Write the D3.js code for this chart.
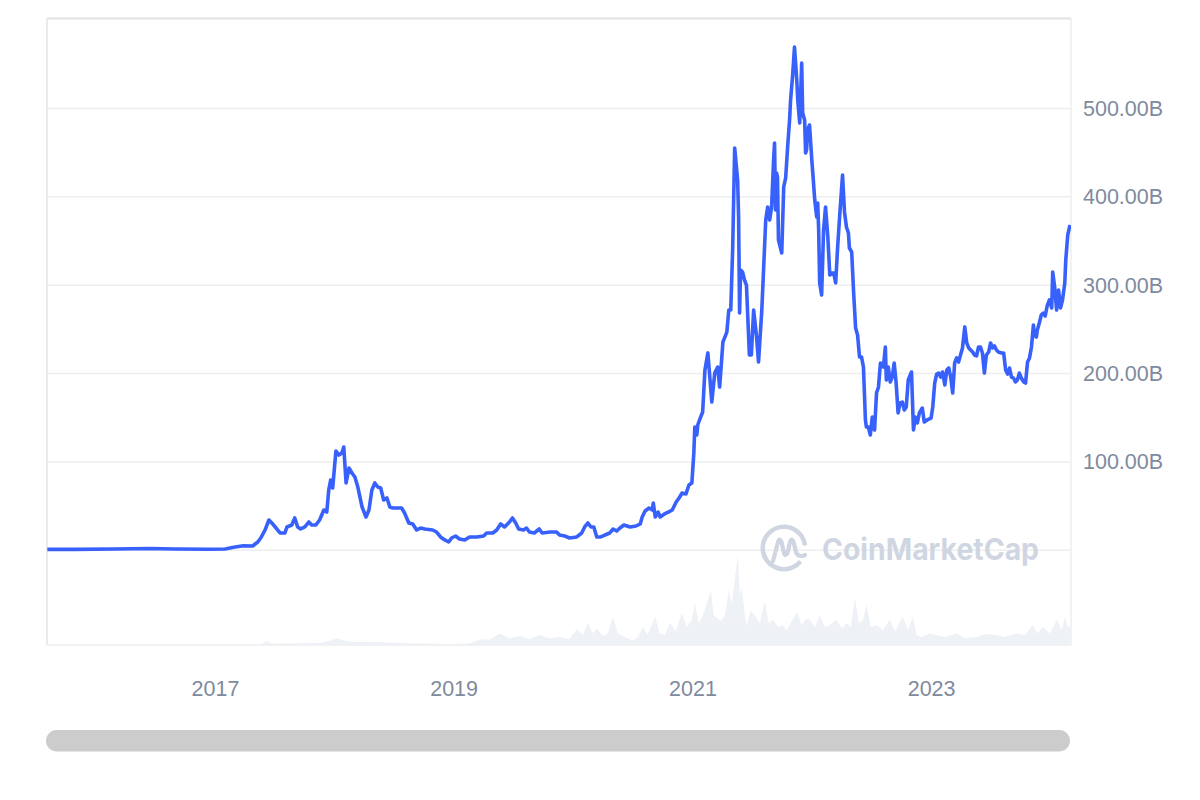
<!DOCTYPE html>
<html>
<head>
<meta charset="utf-8">
<script src="https://cdn.jsdelivr.net/npm/d3@7"></script>
<style>
  html, body { margin: 0; padding: 0; background: #fff; }
  svg { display: block; font-family: "Liberation Sans", Arial, sans-serif; }
</style>
</head>
<body>
<div id="viz"></div>
<script>
// ETH market cap (billions USD)
const capDates = [
  "2015-08-07","2015-11-01","2016-03-01","2016-06-15","2016-09-01","2016-12-15","2017-02-01","2017-02-27",
  "2017-03-29","2017-04-26","2017-05-12","2017-05-21","2017-06-03","2017-06-15","2017-06-24","2017-07-19",
  "2017-08-03","2017-08-09","2017-08-24","2017-09-02","2017-09-11","2017-09-20","2017-10-03","2017-10-15",
  "2017-10-24","2017-11-05","2017-11-17","2017-11-30","2017-12-09","2017-12-15","2017-12-21","2017-12-27",
  "2018-01-06","2018-01-15","2018-01-24","2018-01-30","2018-02-06","2018-02-15","2018-02-24","2018-03-05",
  "2018-03-14","2018-03-27","2018-04-08","2018-04-17","2018-04-26","2018-05-05","2018-05-14","2018-05-23",
  "2018-06-01","2018-06-11","2018-06-20","2018-06-29","2018-07-11","2018-07-26","2018-08-04","2018-08-17",
  "2018-08-29","2018-09-10","2018-09-22","2018-10-05","2018-10-29","2018-11-10","2018-11-22","2018-12-05",
  "2018-12-17","2018-12-26","2019-01-07","2019-01-19","2019-02-04","2019-02-19","2019-03-13","2019-04-03",
  "2019-04-12","2019-05-01","2019-05-13","2019-05-25","2019-06-06","2019-06-21","2019-06-30","2019-07-10",
  "2019-07-19","2019-08-03","2019-08-12","2019-08-21","2019-09-05","2019-09-20","2019-09-29","2019-10-24",
  "2019-11-12","2019-11-21","2019-12-07","2019-12-22","2020-01-13","2020-01-28","2020-02-06","2020-02-16",
  "2020-02-25","2020-03-05","2020-03-14","2020-03-26","2020-04-08","2020-04-23","2020-05-03","2020-05-14",
  "2020-05-24","2020-06-05","2020-06-24","2020-07-12","2020-07-25","2020-07-31","2020-08-09","2020-08-21",
  "2020-08-31","2020-09-03","2020-09-09","2020-09-18","2020-09-24","2020-10-07","2020-10-19","2020-10-31",
  "2020-11-12","2020-11-21","2020-11-30","2020-12-12","2020-12-21","2020-12-30","2021-01-05","2021-01-08",
  "2021-01-14","2021-01-17","2021-01-26","2021-02-01","2021-02-08","2021-02-17","2021-03-01","2021-03-10",
  "2021-03-19","2021-03-25","2021-04-04","2021-04-16","2021-04-22","2021-04-28","2021-05-04","2021-05-10",
  "2021-05-19","2021-05-22","2021-05-25","2021-05-28","2021-06-03","2021-06-09","2021-06-15","2021-06-24",
  "2021-06-30","2021-07-07","2021-07-16","2021-07-22","2021-08-01","2021-08-13","2021-08-19","2021-08-25",
  "2021-08-31","2021-09-06","2021-09-09","2021-09-12","2021-09-15","2021-09-18","2021-09-21","2021-10-01",
  "2021-10-07","2021-10-13","2021-10-19","2021-10-25","2021-10-28","2021-11-03","2021-11-09","2021-11-16",
  "2021-11-19","2021-11-25","2021-12-01","2021-12-04","2021-12-10","2021-12-13","2021-12-16","2021-12-19",
  "2021-12-25","2022-01-01","2022-01-04","2022-01-10","2022-01-16","2022-01-19","2022-01-22","2022-01-25",
  "2022-01-31","2022-02-06","2022-02-12","2022-02-19","2022-02-25","2022-03-03","2022-03-09","2022-03-15",
  "2022-03-21","2022-03-27","2022-04-05","2022-04-11","2022-04-17","2022-04-23","2022-04-26","2022-05-03",
  "2022-05-09","2022-05-15","2022-05-21","2022-05-27","2022-06-02","2022-06-08","2022-06-14","2022-06-17",
  "2022-06-23","2022-06-29","2022-07-05","2022-07-12","2022-07-18","2022-07-24","2022-07-30","2022-08-08",
  "2022-08-14","2022-08-17","2022-08-23","2022-08-29","2022-09-04","2022-09-10","2022-09-16","2022-09-22",
  "2022-09-28","2022-10-05","2022-10-11","2022-10-17","2022-10-23","2022-11-02","2022-11-08","2022-11-14",
  "2022-11-20","2022-11-26","2022-12-05","2022-12-11","2022-12-20","2023-01-01","2023-01-06","2023-01-12",
  "2023-01-18","2023-01-24","2023-01-30","2023-02-05","2023-02-12","2023-02-18","2023-02-24","2023-03-02",
  "2023-03-08","2023-03-14","2023-03-20","2023-03-26","2023-04-01","2023-04-07","2023-04-14","2023-04-20",
  "2023-04-26","2023-05-02","2023-05-08","2023-05-14","2023-05-20","2023-05-26","2023-06-01","2023-06-07",
  "2023-06-13","2023-06-19","2023-06-26","2023-07-02","2023-07-08","2023-07-14","2023-07-20","2023-07-26",
  "2023-08-04","2023-08-11","2023-08-17","2023-08-23","2023-08-29","2023-09-04","2023-09-10","2023-09-16",
  "2023-09-22","2023-09-28","2023-10-04","2023-10-11","2023-10-17","2023-10-23","2023-10-29","2023-11-04",
  "2023-11-10","2023-11-13","2023-11-19","2023-11-22","2023-11-28","2023-12-04","2023-12-10","2023-12-16",
  "2023-12-22","2023-12-29","2024-01-05","2024-01-08","2024-01-14","2024-01-20","2024-01-26","2024-02-01",
  "2024-02-07","2024-02-14","2024-02-17","2024-02-23","2024-03-01"
];
const capValues = [
  1.0,1.0,1.5,2.0,1.5,1.2,1.5,3.4,
  5.2,4.9,9.4,13.9,22.8,34.3,30.9,19.6,
  19.6,26.4,28.6,36.6,26.4,24.2,26.4,32.0,
  28.6,28.6,34.3,45.6,43.3,68.2,79.6,70.5,
  112.4,107.8,110.1,116.9,76.2,93.1,87.5,82.9,
  71.6,49.0,37.7,45.6,68.2,76.2,71.6,70.5,
  56.9,59.2,49.0,47.9,47.9,47.9,42.2,30.9,
  29.8,23.0,25.2,24.1,23.0,20.7,15.1,11.7,
  9.4,13.9,16.2,12.8,11.7,15.1,15.1,16.2,
  19.6,19.6,23.0,29.8,26.4,32.0,36.6,30.9,
  24.1,23.0,25.2,20.7,19.6,24.1,19.6,20.7,
  20.7,17.3,16.2,13.9,15.1,19.6,26.4,30.9,
  26.4,26.4,15.1,15.1,17.3,19.6,24.1,21.8,
  25.2,28.6,26.4,27.5,29.8,37.7,44.5,47.9,
  45.6,53.5,37.7,43.3,37.7,41.1,43.3,45.6,
  54.7,59.2,64.8,63.7,73.9,76.2,110.1,139.5,
  130.5,141.8,150.9,156.5,204.0,223.4,167.8,200.6,
  207.4,184.8,235.7,247.0,271.9,271.9,343.2,455.3,
  419.0,377.2,268.5,317.2,314.9,305.9,300.2,221.0,
  221.0,271.9,241.4,213.1,271.9,373.8,388.5,373.8,
  388.5,441.7,461.0,385.1,427.0,422.4,351.2,336.5,
  411.2,421.4,456.5,487.1,509.6,535.7,569.6,532.3,
  509.6,483.6,551.5,494.9,487.1,449.6,453.1,475.7,
  481.3,441.7,427.0,396.4,377.2,393.0,362.5,302.5,
  288.9,362.5,388.5,354.6,311.6,313.9,313.9,302.5,
  343.2,377.2,424.7,382.9,365.9,359.1,342.1,337.6,
  291.2,251.6,243.7,218.8,218.8,207.4,147.5,139.5,
  139.5,130.5,150.9,136.1,178.0,184.8,212.0,207.4,
  230.1,192.7,207.4,190.5,196.1,212.0,189.3,155.4,
  166.7,167.8,158.8,162.2,192.7,201.8,136.1,150.9,
  144.1,155.4,161.0,145.2,147.5,149.7,162.2,189.3,
  199.5,200.6,196.1,201.8,187.1,204.0,206.3,196.1,
  178.0,212.0,217.7,213.1,221.0,229.0,252.8,234.7,
  229.0,226.7,224.4,221.0,219.9,230.1,230.1,223.3,
  200.6,221.0,224.4,234.6,229.0,231.2,226.7,224.4,
  223.3,223.3,204.0,199.5,206.3,196.1,195.0,190.5,
  192.7,200.6,195.0,190.5,189.3,213.1,217.7,230.1,
  255.0,243.7,241.4,249.3,257.2,266.3,268.5,265.1,
  276.5,283.3,274.3,315.0,298.0,271.9,294.6,274.3,
  283.3,302.5,328.6,356.8,368.2
];

// trading volume (billions USD), bottom panel
const volDates = [
  "2015-08-07","2017-02-15","2017-05-24","2017-06-08","2017-06-23","2017-11-17","2017-12-18","2018-01-09",
  "2018-01-24","2018-02-17","2018-04-19","2018-07-20","2018-12-20","2019-02-18","2019-03-27","2019-04-20",
  "2019-05-21","2019-06-21","2019-07-21","2019-08-21","2019-09-20","2019-10-21","2019-11-21","2019-12-21",
  "2020-01-13","2020-02-01","2020-02-15","2020-03-02","2020-03-14","2020-04-02","2020-04-17","2020-05-02",
  "2020-05-18","2020-06-08","2020-07-03","2020-07-18","2020-08-02","2020-08-17","2020-09-08","2020-09-23",
  "2020-10-08","2020-10-24","2020-11-11","2020-11-29","2020-12-15","2020-12-30","2021-01-08","2021-01-20",
  "2021-02-02","2021-02-14","2021-02-26","2021-03-07","2021-03-16","2021-03-29","2021-04-10","2021-04-22",
  "2021-05-01","2021-05-10","2021-05-20","2021-05-26","2021-06-01","2021-06-10","2021-06-16","2021-06-28",
  "2021-07-11","2021-07-26","2021-08-10","2021-08-22","2021-09-04","2021-09-19","2021-10-04","2021-10-16",
  "2021-11-01","2021-11-16","2021-12-01","2021-12-14","2021-12-26","2022-01-10","2022-01-25","2022-02-10",
  "2022-02-25","2022-03-18","2022-04-03","2022-04-18","2022-04-30","2022-05-13","2022-05-25","2022-06-06",
  "2022-06-18","2022-06-30","2022-07-19","2022-08-06","2022-08-28","2022-09-12","2022-10-06","2022-10-22",
  "2022-11-06","2022-11-18","2022-12-03","2022-12-28","2023-01-18","2023-02-12","2023-03-21","2023-04-14",
  "2023-05-21","2023-06-14","2023-07-21","2023-08-14","2023-09-20","2023-10-15","2023-11-08","2023-11-23",
  "2023-12-09","2023-12-30","2024-01-21","2024-02-05","2024-02-14","2024-02-23","2024-03-03"
];
const volValues = [
  0,0.3,1,4,1.5,2,4,6.5,
  5,3,3,2,1,1.5,5.5,5,
  11,6.5,8.5,5.5,9.5,6.5,7.5,5.5,
  15,9.5,21,11,16,8.5,11,27,
  11,7.5,4,7.5,17,9.5,27,11,
  9.5,21,13,30,17,24,40,21,
  28,40,52,28,26,23,28,52,
  38,62,85,47,55,28,19,33,
  28,21,41,21,24,17,19,14,
  23,31,19,25,24,17,28,17,
  19,24,16,21,17,45,21,24,
  38,17,19,14,24,13,27,14,
  27,9.5,7.5,11,9.5,7.5,11,6.5,
  7.5,10.5,9.5,7.5,11,9.5,19,11,
  17,11,24,14,27,17,19
];

const yearTicks = ["2017-01-01","2019-01-01","2021-01-01","2023-01-01"];
const priceTicks = [100, 200, 300, 400, 500];
const gridTicks = [0, 100, 200, 300, 400, 500];

const parse = d3.timeParse("%Y-%m-%d");
const cap = capDates.map((d, i) => ({ date: parse(d), value: capValues[i] }));
const vol = volDates.map((d, i) => ({ date: parse(d), value: volValues[i] }));

const W = 1200, H = 800;
const plotL = 47, plotR = 1071, plotT = 18.5, plotB = 645;

const svg = d3.select("#viz").append("svg")
  .attr("width", W)
  .attr("height", H);

const x = d3.scaleTime()
  .domain([parse("2015-08-06"), parse("2024-03-04")])
  .range([plotL, plotR]);

const y = d3.scaleLinear().domain([0, 500]).range([550.3, 108.5]);
const yVol = d3.scaleLinear().domain([0, 90]).range([plotB, 550.3]);

svg.append("defs").append("clipPath").attr("id", "plot")
  .append("rect").attr("x", plotL).attr("y", plotT).attr("width", plotR - plotL).attr("height", plotB - plotT);

// grid
svg.append("g").selectAll("line")
  .data(gridTicks)
  .enter().append("line")
  .attr("x1", plotL).attr("x2", plotR)
  .attr("y1", d => y(d)).attr("y2", d => y(d))
  .attr("stroke", "#eeeeee").attr("stroke-width", 1.5);

// frame
svg.append("line").attr("x1", plotL).attr("x2", plotR).attr("y1", plotT).attr("y2", plotT)
  .attr("stroke", "#e2e2e2").attr("stroke-width", 2);
svg.append("line").attr("x1", plotL).attr("x2", plotR).attr("y1", plotB).attr("y2", plotB)
  .attr("stroke", "#eeeeee").attr("stroke-width", 1.5);
svg.append("line").attr("x1", plotL).attr("x2", plotL).attr("y1", plotT).attr("y2", plotB)
  .attr("stroke", "#ebebeb").attr("stroke-width", 2);
svg.append("line").attr("x1", plotR).attr("x2", plotR).attr("y1", plotT).attr("y2", plotB)
  .attr("stroke", "#eeeeee").attr("stroke-width", 1.5);

// watermark
const wm = svg.append("g").attr("fill", "none").attr("stroke", "#cfd6e2")
  .attr("stroke-linecap", "round").attr("stroke-linejoin", "round");
wm.append("path")
  .attr("transform", "translate(784,548)")
  .attr("fill", "#cfd6e2").attr("stroke", "none")
  .attr("d", d3.arc().innerRadius(19).outerRadius(23.5).startAngle(2.25).endAngle(2 * Math.PI + 1.45)());
wm.append("path")
  .attr("stroke-width", 4.2)
  .attr("d", "M773,561 L778,542 Q779.5,537 781.5,542 L784,553 Q785.5,557 787.5,553 L790,542 Q791.5,537 793.5,542 L796,552 Q798,558 805,555");
svg.append("text")
  .attr("x", 822).attr("y", 560)
  .attr("fill", "#cfd6e2")
  .attr("font-family", "Inter, 'Noto Sans', sans-serif")
  .attr("font-weight", 700)
  .attr("font-size", 30)
  .attr("textLength", 217)
  .attr("lengthAdjust", "spacingAndGlyphs")
  .text("CoinMarketCap");

const plot = svg.append("g").attr("clip-path", "url(#plot)");

// volume
plot.append("path")
  .datum(vol)
  .attr("fill", "#eef1f5")
  .attr("d", d3.area().x(d => x(d.date)).y0(plotB).y1(d => yVol(d.value)));

// market cap line
plot.append("path")
  .datum(cap)
  .attr("fill", "none")
  .attr("stroke", "#3861fb")
  .attr("stroke-width", 3.6)
  .attr("stroke-linejoin", "round")
  .attr("d", d3.line().x(d => x(d.date)).y(d => y(d.value)));

// axes
const yAxis = svg.append("g")
  .attr("transform", `translate(${plotR},0)`)
  .call(d3.axisRight(y).tickValues(priceTicks).tickFormat(d => d.toFixed(2) + "B").tickSize(0).tickPadding(12));
yAxis.select(".domain").remove();
yAxis.selectAll("text").attr("fill", "#808a9d").attr("font-size", 21.5)
  .attr("font-family", "'Liberation Sans', Arial, sans-serif");

const xAxis = svg.append("g")
  .attr("transform", `translate(0,${plotB})`)
  .call(d3.axisBottom(x).tickValues(yearTicks.map(parse)).tickFormat(d3.timeFormat("%Y")).tickSize(0).tickPadding(36));
xAxis.select(".domain").remove();
xAxis.selectAll("text").attr("fill", "#808a9d").attr("font-size", 21.5)
  .attr("font-family", "'Liberation Sans', Arial, sans-serif");

// scrollbar
svg.append("rect")
  .attr("x", 46).attr("y", 730).attr("width", 1024).attr("height", 21.5)
  .attr("rx", 10.75)
  .attr("fill", "#cccccc");
</script>
</body>
</html>
